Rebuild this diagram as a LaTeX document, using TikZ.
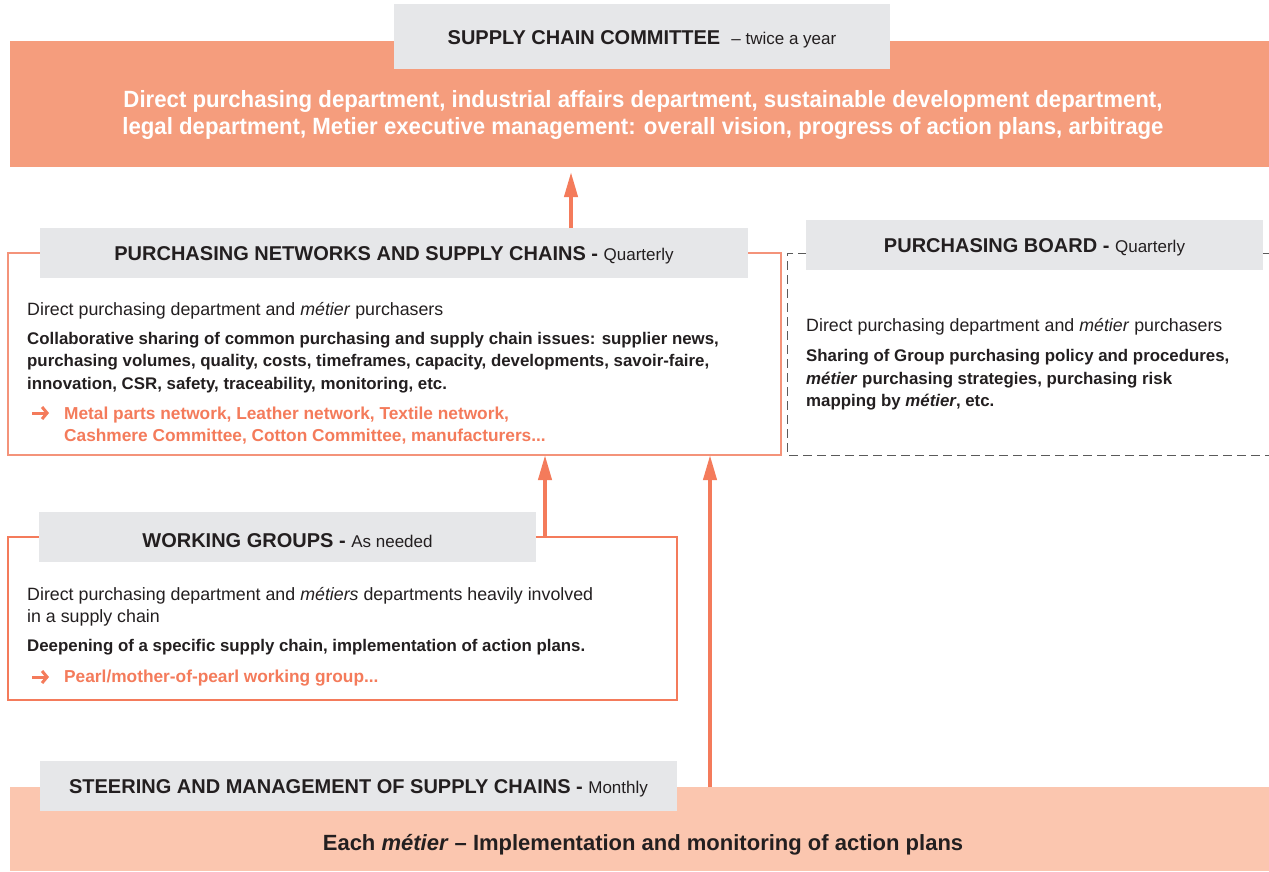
\documentclass[tikz,border=0pt]{standalone}
\usepackage{fontspec}
\setmainfont{Liberation Sans}
\newfontfamily\condfont[FakeStretch=0.945]{Liberation Sans}
\usetikzlibrary{arrows.meta}
\definecolor{topfill}{HTML}{F59D7D}
\definecolor{botfill}{HTML}{FBC6AF}
\definecolor{hdrgrey}{HTML}{E6E7E9}
\definecolor{accent}{HTML}{F47B5B}
\definecolor{boxline}{HTML}{F4937A}
\definecolor{ink}{HTML}{231F20}
\definecolor{dashgrey}{HTML}{5A5A5A}
\newcommand\freqtxt[1]{{\fontsize{17}{20}\selectfont\mdseries #1}}
\tikzset{
  panel/.style={rectangle, inner sep=0pt, outer sep=0pt},
  hdr/.style={panel, fill=hdrgrey, text=ink, text height=15pt, text depth=0pt, font=\fontsize{20}{24}\selectfont\bfseries},
  frame/.style={panel, draw=boxline, line width=1.1pt},
  conn/.style={accent, line width=4pt, -{Triangle[length=25pt,width=13pt]}},
  bullet/.style={accent, line width=3pt, -{Straight Barb[length=5pt,width=12pt,line width=3pt]}},
  reg/.style={anchor=base west, inner sep=0pt, text=ink, font=\fontsize{17.8}{22}\selectfont},
  bld/.style={anchor=base west, inner sep=0pt, text=ink, font=\fontsize{16.85}{22}\selectfont\bfseries},
  org/.style={anchor=base west, inner sep=0pt, text=accent, font=\fontsize{17.3}{22}\selectfont\bfseries},
  bigw/.style={anchor=base, inner sep=0pt, text=white, font=\fontsize{23.5}{27}\condfont\bfseries},
  bigd/.style={anchor=base, inner sep=0pt, text=ink, font=\fontsize{22}{27}\selectfont\bfseries}
}
\begin{document}
\begin{tikzpicture}[x=1pt,y=-1pt]
\useasboundingbox (0,0) rectangle (1269,871);
\fill[white] (0,0) rectangle (1269,871);

% ---------- top committee
\node[panel, fill=topfill, minimum width=1259pt, minimum height=126pt] (top) at (639.5,104) {};
\node[hdr, minimum width=496pt, minimum height=65pt] (schdr) at (642,36.5) {SUPPLY CHAIN COMMITTEE\ \ \freqtxt{– twice a year}};
\node[bigw] (topl1) at (643,107.3) {Direct purchasing department, industrial affairs department, sustainable development department,};
\node[bigw] (topl2) at (643,134) {legal department, Metier executive management: overall vision, progress of action plans, arbitrage};

% ---------- purchasing networks
\node[frame, minimum width=773pt, minimum height=202pt] (pn) at (394.5,354) {};
\node[hdr, minimum width=708pt, minimum height=50pt] (pnhdr) at (394,253) {PURCHASING NETWORKS AND SUPPLY CHAINS - \freqtxt{Quarterly}};
\node[reg] (pnr1) at (27,315) {Direct purchasing department and \textit{métier} purchasers};
\node[bld] (pnb1) at (27,344) {Collaborative sharing of common purchasing and supply chain issues: supplier news,};
\node[bld] (pnb2) at (27,366.5) {purchasing volumes, quality, costs, timeframes, capacity, developments, savoir-faire,};
\node[bld] (pnb3) at (27,389) {innovation, CSR, safety, traceability, monitoring, etc.};
\coordinate (pnar1) at (32,413);
\coordinate (pnar2) at (49,413);
\draw[bullet] (pnar1) -- (pnar2);
\node[org] (pno1) at (64,419) {Metal parts network, Leather network, Textile network,};
\node[org] (pno2) at (64,441.5) {Cashmere Committee, Cotton Committee, manufacturers...};

% ---------- purchasing board
\node[panel, minimum width=482pt, minimum height=202pt] (pb) at (1028,354) {};
\draw[dashgrey, line width=0.8pt, dash pattern=on 9pt off 5pt] (pb.north east) -- (pb.north west) -- (pb.south west) -- (pb.south east);
\node[hdr, minimum width=457pt, minimum height=50pt] (pbhdr) at (1034.5,245) {PURCHASING BOARD - \freqtxt{Quarterly}};
\node[reg] (pbr1) at (806,331.5) {Direct purchasing department and \textit{métier} purchasers};
\node[bld] (pbb1) at (806,361.5) {Sharing of Group purchasing policy and procedures,};
\node[bld] (pbb2) at (806,384) {\textit{métier} purchasing strategies, purchasing risk};
\node[bld] (pbb3) at (806,406.5) {mapping by \textit{métier}, etc.};

% ---------- working groups
\node[frame, draw=accent, minimum width=669pt, minimum height=163pt] (wg) at (342.5,618.5) {};
\node[hdr, text height=21pt, minimum width=497pt, minimum height=50pt] (wghdr) at (287.5,537) {WORKING GROUPS - \freqtxt{As needed}};
\node[reg] (wgr1) at (27,600) {Direct purchasing department and \textit{métiers} departments heavily involved};
\node[reg] (wgr2) at (27,622.5) {in a supply chain};
\node[bld] (wgb1) at (27,651.5) {Deepening of a specific supply chain, implementation of action plans.};
\coordinate (wgar1) at (32,677);
\coordinate (wgar2) at (49,677);
\draw[bullet] (wgar1) -- (wgar2);
\node[org] (wgo1) at (64,682.5) {Pearl/mother-of-pearl working group...};

% ---------- steering
\node[panel, fill=botfill, minimum width=1259pt, minimum height=84pt] (bot) at (639.5,829) {};
\node[hdr, minimum width=637pt, minimum height=50pt] (smhdr) at (358.5,786) {STEERING AND MANAGEMENT OF SUPPLY CHAINS - \freqtxt{Monthly}};
\node[bigd] (botl) at (643,850) {Each \textit{métier} – Implementation and monitoring of action plans};

% ---------- connectors
\draw[conn, shorten >=5pt] (pnhdr.north -| 571,0) -- (top.south -| 571,0);
\draw[conn] (wg.north -| 545,0) -- (pn.south -| 545,0);
\draw[conn] (bot.north -| 710,0) -- (pn.south -| 710,0);
\end{tikzpicture}
\end{document}
